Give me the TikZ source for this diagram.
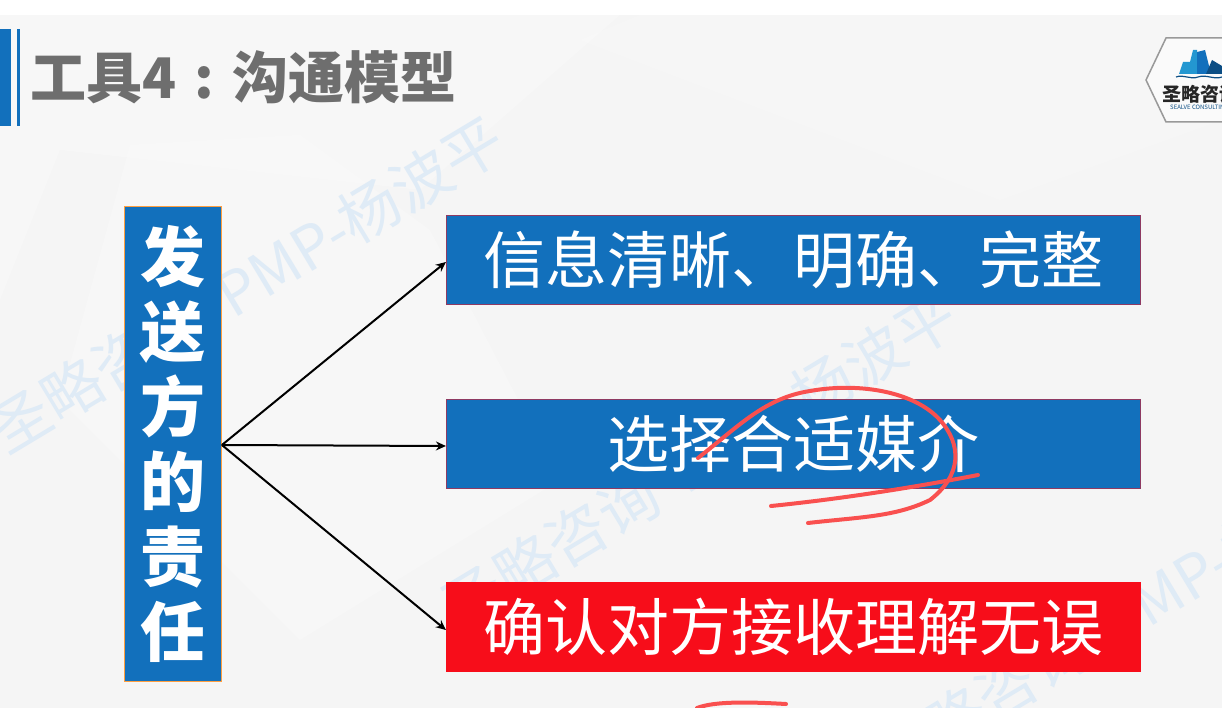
\documentclass[tikz,border=0pt]{standalone}
\usepackage{fontspec}
\setmainfont{Noto Sans CJK SC}
\usetikzlibrary{arrows.meta, shapes.geometric}
\definecolor{slideblue}{HTML}{1270BC}
\definecolor{slidered}{HTML}{F70D1A}
\definecolor{inkred}{HTML}{F9504F}
\definecolor{titlegray}{HTML}{6E6E6E}
\definecolor{markblue}{HTML}{DFEBF6}
\definecolor{edgered}{HTML}{8E3A62}
\tikzset{
  itembox/.style={line width=1.2pt, minimum width=694pt, minimum height=89.5pt,
    inner sep=0pt, text=white, font=\fontsize{62}{62}\selectfont},
  watermark/.style={text=markblue, rotate=31, anchor=west, inner sep=0pt, font=\fontsize{60}{60}\selectfont},
  inkstroke/.style={draw=inkred, line width=4pt, line cap=round},
}

\begin{document}
\begin{tikzpicture}[x=1pt, y=-1pt]
\useasboundingbox (0,0) rectangle (1222,708);

% backdrop
\fill[white] (0,0) rectangle (1222,708);
\fill[black!4] (0,15) rectangle (1222,708);
\fill[white, opacity=0.2] (0,15) -- (620,15) -- (420,190) -- (60,150) -- (0,300) -- cycle;
\fill[white, opacity=0.2] (130,145) -- (300,135) -- (430,230) -- (560,480) -- (300,640) -- (60,400) -- cycle;
\fill[white, opacity=0.15] (580,40) -- (1000,200) -- (1222,120) -- (1222,15) -- (640,15) -- cycle;

% watermark
\begin{scope}
\clip (0,15) rectangle (1222,708);
\node[watermark] (mark1) at (-5,436) {圣略咨询\hspace{0.4em}PMP-杨波平};
\node[watermark] (mark2) at (448,612) {圣略咨询\hspace{0.4em}PMP-杨波平};
\node[watermark] (mark3) at (878,765) {圣略咨询\hspace{0.4em}PMP-杨波平};
\end{scope}

% title bars
\fill[slideblue] (0,29) rectangle (11,126);
\fill[slideblue] (17,29) rectangle (20,126);
\node[text=titlegray, anchor=west, inner sep=0pt, font=\fontsize{56}{56}\selectfont\bfseries] (title) at (30,77)
  {工具4\hspace{0.32em}:\hspace{0.34em}沟通模型};

% logo
\begin{scope}
\clip (1130,20) rectangle (1222,140);
\draw[black!40, line width=1.5pt, fill=black!2] (1146,80) -- (1166,38) -- (1240,38) -- (1240,122) -- (1166,122) -- cycle;
\fill[cyan!60!slideblue] (1179,74) -- (1183,62) -- (1190,62) -- (1193,50) -- (1197,50) -- (1197,74) -- cycle;
\fill[slideblue] (1197,74) -- (1197,52) -- (1205,50) -- (1211,74) -- cycle;
\fill[slideblue!70!black] (1206,74) -- (1212,60) -- (1222,66) -- (1222,74) -- cycle;
\draw[slideblue!70!black, line width=1.2pt] (1176,77) .. controls (1184,74) and (1190,80) .. (1198,77) .. controls (1206,74) and (1214,80) .. (1222,77);
\node[anchor=west, inner sep=0pt, text=black!85, font=\fontsize{19}{19}\selectfont\bfseries] (logotext) at (1162,94) {圣略咨询};
\node[anchor=west, inner sep=0pt, text=slideblue!70!black, font=\fontsize{6}{6}\selectfont] (logosub) at (1170,107) {SEALVE CONSULTING};
\end{scope}

% boxes
\node[draw=orange!75!white, fill=slideblue, text=white, line width=0.8pt, minimum width=97pt, minimum height=475pt,
  inner sep=0pt, align=center, font=\fontsize{65}{75}\selectfont\bfseries] (duty) at (173,443.5) {发\\送\\方\\的\\责\\任};
\node[itembox, draw=edgered, fill=slideblue] (clear) at (793.5,260) {信息清晰、明确、完整};
\node[itembox, draw=edgered, fill=slideblue] (media) at (793.5,444) {选择合适媒介};
\node[itembox, draw=slidered, fill=slidered] (confirm) at (793.5,627) {确认对方接收理解无误};

\coordinate (fork) at (duty.east |- 0,445);
\begin{scope}[-{Stealth[length=10pt, width=9pt]}, line width=2pt]
\draw (fork) -- ([yshift=-2pt]clear.west);
\draw (fork) -- ([yshift=-2pt]media.west);
\draw (fork) -- ([yshift=-3pt]confirm.west);
\end{scope}

% pen marks
\draw[inkstroke] (698,458) .. controls (740,425) and (765,398) .. (810,391)
  .. controls (860,382) and (915,392) .. (940,420)
  .. controls (962,445) and (962,475) .. (930,500)
  .. controls (895,517) and (860,517) .. (808,523);
\draw[inkstroke] (771,506) .. controls (830,500) and (900,490) .. (978,475);
\draw[inkstroke] (697,708) .. controls (715,701) and (750,702) .. (786,704);

\end{tikzpicture}
\end{document}
